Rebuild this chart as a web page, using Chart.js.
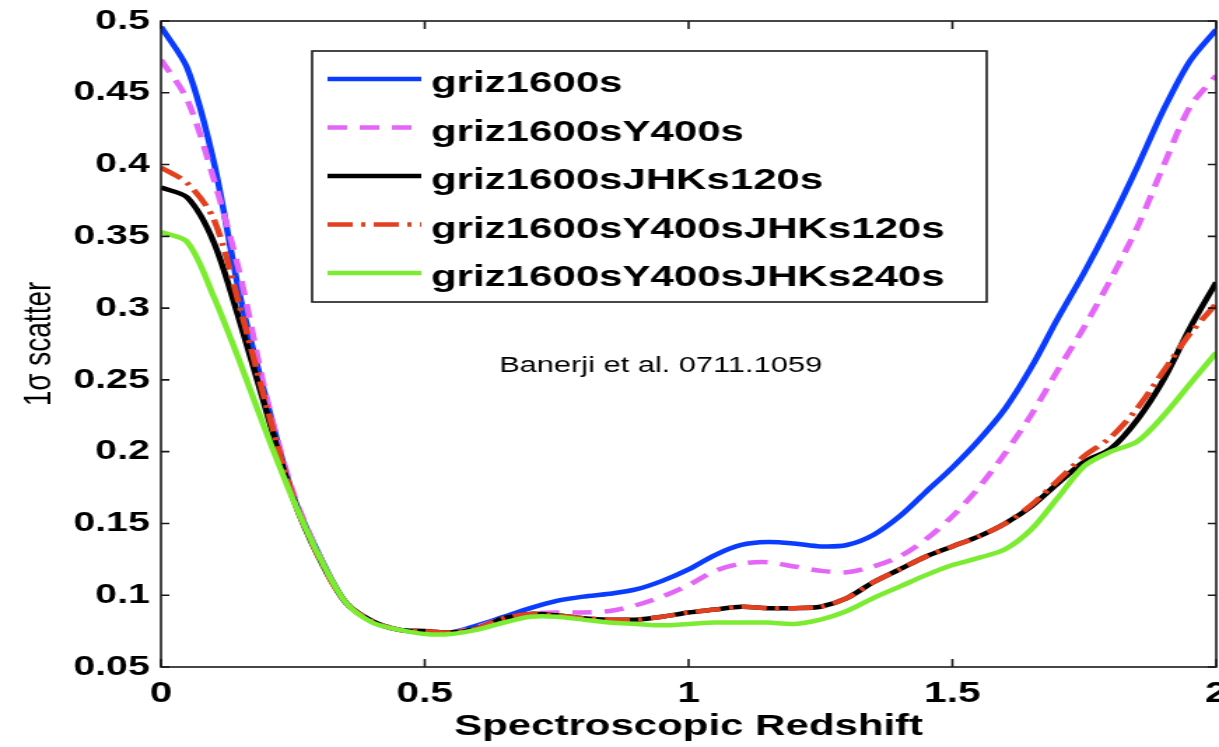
<!DOCTYPE html>
<html>
<head>
<meta charset="utf-8">
<script src="https://cdn.jsdelivr.net/npm/chart.js@4.4.1/dist/chart.umd.min.js"></script>
<style>
  html, body { margin: 0; padding: 0; background: #fff; }
</style>
</head>
<body>
<!-- the original figure is stretched sideways, so the canvas is drawn narrow and widened by css -->
<canvas id="plot" width="871" height="747" style="display:block;width:1219px;height:747px"></canvas>
<script>
const redshift = [0, 0.05, 0.1, 0.15, 0.2, 0.25, 0.3, 0.35, 0.4, 0.45, 0.5, 0.55, 0.6, 0.65, 0.7,
  0.75, 0.8, 0.85, 0.9, 0.95, 1, 1.05, 1.1, 1.15, 1.2, 1.25, 1.3, 1.35, 1.4, 1.45, 1.5, 1.55, 1.6,
  1.65, 1.7, 1.75, 1.8, 1.85, 1.9, 1.95, 2];

const griz = [0.496, 0.467, 0.402, 0.308, 0.236, 0.17, 0.128, 0.095, 0.082, 0.076, 0.074, 0.074,
  0.079, 0.085, 0.091, 0.096, 0.099, 0.101, 0.104, 0.110, 0.118, 0.128, 0.135, 0.137, 0.136, 0.134,
  0.135, 0.142, 0.155, 0.172, 0.189, 0.208, 0.230, 0.259, 0.293, 0.325, 0.36, 0.398, 0.438, 0.472, 0.494];
const grizY = [0.473, 0.445, 0.39, 0.323, 0.238, 0.172, 0.128, 0.095, 0.082, 0.076, 0.074, 0.074,
  0.078, 0.084, 0.087, 0.088, 0.088, 0.089, 0.093, 0.099, 0.107, 0.117, 0.122, 0.123, 0.120, 0.117,
  0.116, 0.120, 0.127, 0.139, 0.155, 0.175, 0.199, 0.226, 0.257, 0.287, 0.32, 0.356, 0.399, 0.440, 0.462];
const grizJHK = [0.384, 0.377, 0.346, 0.29, 0.228, 0.168, 0.126, 0.095, 0.082, 0.076, 0.075, 0.074,
  0.077, 0.084, 0.087, 0.086, 0.084, 0.083, 0.083, 0.085, 0.088, 0.090, 0.092, 0.091, 0.091, 0.092,
  0.098, 0.109, 0.118, 0.127, 0.134, 0.141, 0.150, 0.162, 0.178, 0.193, 0.202, 0.222, 0.25, 0.286, 0.318];
const grizYJHK120 = [0.398, 0.387, 0.362, 0.30, 0.232, 0.169, 0.126, 0.095, 0.082, 0.076, 0.075, 0.074,
  0.077, 0.084, 0.087, 0.086, 0.084, 0.083, 0.083, 0.085, 0.088, 0.090, 0.092, 0.091, 0.091, 0.092,
  0.098, 0.109, 0.118, 0.127, 0.134, 0.141, 0.150, 0.163, 0.180, 0.197, 0.21, 0.23, 0.256, 0.282, 0.303];
const grizYJHK240 = [0.353, 0.346, 0.308, 0.262, 0.213, 0.167, 0.127, 0.095, 0.081, 0.076, 0.073, 0.073,
  0.076, 0.081, 0.085, 0.085, 0.083, 0.081, 0.080, 0.079, 0.080, 0.081, 0.081, 0.081, 0.080, 0.083,
  0.089, 0.098, 0.106, 0.114, 0.121, 0.126, 0.132, 0.146, 0.168, 0.190, 0.200, 0.207, 0.225, 0.247, 0.269];

const xTicks = [0, 0.5, 1, 1.5, 2];
const yTicks = [0.05, 0.1, 0.15, 0.2, 0.25, 0.3, 0.35, 0.4, 0.45, 0.5];
const note = { x: 0.947, y: 0.26, text: 'Banerji et al. 0711.1059' };

const FONT = '"Liberation Sans", Arial, Helvetica, sans-serif';

function pts(ys) {
  return redshift.map((x, i) => ({ x, y: ys[i] }));
}

function line(label, ys, color, dash, order) {
  return {
    label,
    data: pts(ys),
    borderColor: color,
    backgroundColor: color,
    borderWidth: 4.5,
    borderDash: dash,
    pointRadius: 0,
    tension: 0.3,
    fill: false,
    order
  };
}

// box, inward ticks, legend and the note
const decor = {
  id: 'decor',
  afterDraw(chart) {
    const { ctx, chartArea: a, scales: { x, y } } = chart;
    ctx.save();
    ctx.setLineDash([]);
    ctx.strokeStyle = '#1a1a1a';
    ctx.lineWidth = 1.6;
    ctx.strokeRect(a.left, a.top, a.right - a.left, a.bottom - a.top);
    ctx.beginPath();
    x.ticks.forEach(t => {
      const px = x.getPixelForValue(t.value);
      ctx.moveTo(px, a.bottom); ctx.lineTo(px, a.bottom - 8);
      ctx.moveTo(px, a.top); ctx.lineTo(px, a.top + 8);
    });
    y.ticks.forEach(t => {
      const py = y.getPixelForValue(t.value);
      ctx.moveTo(a.left, py); ctx.lineTo(a.left + 6, py);
      ctx.moveTo(a.right, py); ctx.lineTo(a.right - 6, py);
    });
    ctx.stroke();

    // legend
    const box = { left: 223, top: 51, right: 705, bottom: 302 };
    ctx.fillStyle = '#fff';
    ctx.fillRect(box.left, box.top, box.right - box.left, box.bottom - box.top);
    ctx.lineWidth = 1.6;
    ctx.strokeRect(box.left, box.top, box.right - box.left, box.bottom - box.top);
    ctx.font = 'bold 30px ' + FONT;
    ctx.textAlign = 'left';
    ctx.textBaseline = 'alphabetic';
    chart.data.datasets.forEach((ds, i) => {
      const rowY = 79 + i * 48.5;
      ctx.strokeStyle = ds.borderColor;
      ctx.lineWidth = ds.borderWidth;
      ctx.setLineDash(ds.borderDash || []);
      ctx.beginPath();
      ctx.moveTo(234, rowY);
      ctx.lineTo(301, rowY);
      ctx.stroke();
      ctx.fillStyle = '#000';
      ctx.fillText(ds.label, 308, rowY + 13);
    });
    ctx.setLineDash([]);

    ctx.font = '22px ' + FONT;
    ctx.textAlign = 'center';
    ctx.textBaseline = 'middle';
    ctx.fillStyle = '#000';
    ctx.fillText(note.text, x.getPixelForValue(note.x), y.getPixelForValue(note.y));
    ctx.restore();
  }
};

new Chart(document.getElementById('plot'), {
  type: 'line',
  data: {
    datasets: [
      line('griz1600s', griz, '#0a3cff', [], 4),
      line('griz1600sY400s', grizY, '#e466f7', [14, 9], 3),
      line('griz1600sJHKs120s', grizJHK, '#000000', [], 2),
      line('griz1600sY400sJHKs120s', grizYJHK120, '#e2401f', [18, 6, 3, 6], 1),
      line('griz1600sY400sJHKs240s', grizYJHK240, '#7bec31', [], 0)
    ]
  },
  options: {
    responsive: false,
    animation: false,
    layout: { padding: { left: 0, right: 2, top: 21, bottom: 0 } },
    plugins: {
      legend: { display: false },
      tooltip: { enabled: false }
    },
    scales: {
      x: {
        type: 'linear',
        min: 0,
        max: 2,
        afterBuildTicks: s => { s.ticks = xTicks.map(v => ({ value: v })); },
        afterFit: s => { s.height = 80; s.paddingLeft = 0; s.paddingRight = 0; },
        grid: { display: false, drawTicks: false },
        border: { display: false },
        ticks: {
          autoSkip: false,
          maxRotation: 0,
          padding: 10,
          color: '#000',
          font: { family: FONT, size: 29, weight: 'bold' },
          callback: v => String(v)
        },
        title: {
          display: true,
          text: 'Spectroscopic Redshift',
          color: '#000',
          padding: { top: 0, bottom: 2 },
          font: { family: FONT, size: 30, weight: 'bold' }
        }
      },
      y: {
        type: 'linear',
        min: 0.05,
        max: 0.5,
        afterBuildTicks: s => { s.ticks = yTicks.map(v => ({ value: v })); },
        afterFit: s => { s.width = 115; s.paddingTop = 0; s.paddingBottom = 0; },
        grid: { display: false, drawTicks: false },
        border: { display: false },
        ticks: {
          autoSkip: false,
          padding: 8,
          color: '#000',
          font: { family: FONT, size: 28, weight: 'bold' },
          callback: v => String(+v.toFixed(2))
        },
        title: {
          display: true,
          text: '1σ scatter',
          color: '#000',
          padding: { top: 11, bottom: 0 },
          font: { family: FONT, size: 28 }
        }
      }
    }
  },
  plugins: [decor]
});
</script>
</body>
</html>
